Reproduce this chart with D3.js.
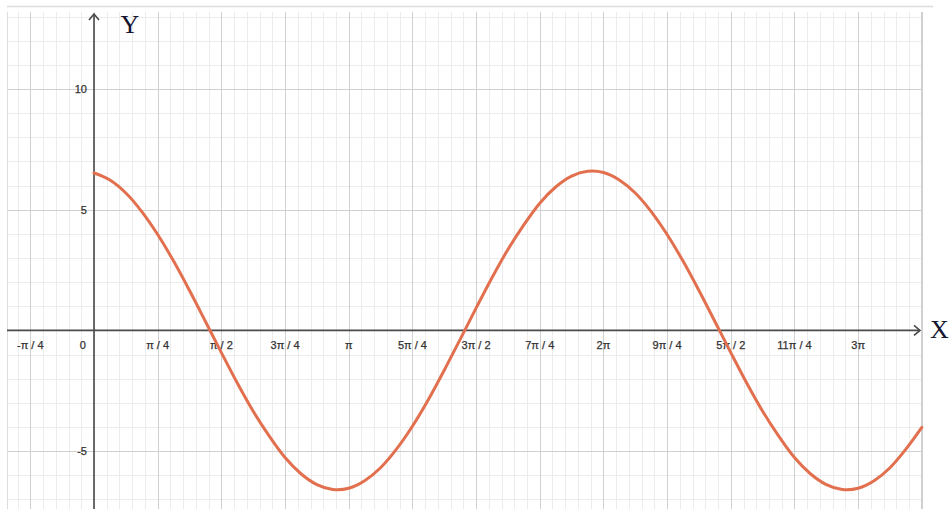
<!DOCTYPE html>
<html>
<head>
<meta charset="utf-8">
<script src="https://cdn.jsdelivr.net/npm/d3@7/dist/d3.min.js"></script>
<style>
  html, body { margin: 0; padding: 0; background: #ffffff; }
  svg { display: block; }
</style>
</head>
<body>
<svg id="chart" width="952" height="509"></svg>
<script>
// ---- data ----
// x positions of the sampled curve points, as multiples of π/16
const sampleSteps = [0,1,2,3,4,5,6,7,8,9,10,11,12,13,14,15,16,17,18,19,20,21,22,23,24,25,26,
  27,28,29,30,31,32,33,34,35,36,37,38,39,40,41,42,43,44,45,46,47,48,49,50,51,52];
// y values at those positions
const curveValues = [6.52,6.23,5.69,4.92,3.97,2.87,1.65,0.37,-0.92,-2.18,-3.35,-4.37,-5.27,-5.94,-6.39,-6.59,
  -6.54,-6.23,-5.69,-4.92,-3.97,-2.87,-1.65,-0.37,0.92,2.18,3.35,4.37,5.27,5.94,6.39,6.59,
  6.54,6.23,5.69,4.92,3.97,2.87,1.65,0.37,-0.92,-2.18,-3.35,-4.37,-5.27,-5.94,-6.39,-6.59,
  -6.54,-6.23,-5.69,-4.92,-4.02];
// x tick positions (multiples of π/4) and labels
const xTickSteps = [-1,0,1,2,3,4,5,6,7,8,9,10,11,12];
const xTickLabels = ["-π / 4","0","π / 4","π / 2","3π / 4","π","5π / 4","3π / 2","7π / 4","2π","9π / 4","5π / 2","11π / 4","3π"];
const yTickValues = [10, 5, -5];
const yTickLabels = ["10", "5", "-5"];

(function () {
// ---- layout ----
const svg = d3.select("#chart");
const gL = 7, gR = 921, gT = 12, gB = 509;
const x = d3.scaleLinear().domain([-1.073, 10.2]).range([gL, gR]);
const y = d3.scaleLinear().domain([13.19, -7.4]).range([gT, gB]);
const q = Math.PI / 4;

// frame line at top
svg.append("line").attr("x1", 7).attr("x2", 933).attr("y1", 6.5).attr("y2", 6.5)
  .attr("stroke", "#dcdcdc").attr("stroke-width", 1.5);

const grid = svg.append("g");
// minor vertical grid (π/20)
const vMinor = d3.range(-25, 70).map(i => i * Math.PI / 20).filter(v => x(v) >= gL - 0.5 && x(v) <= gR + 0.5);
grid.selectAll(".vmin").data(vMinor).enter().append("line")
  .attr("x1", d => Math.round(x(d)) + 0.5).attr("x2", d => Math.round(x(d)) + 0.5)
  .attr("y1", gT).attr("y2", gB).attr("stroke", "#ececec").attr("stroke-width", 1);
// minor horizontal grid (1 unit)
const hMinor = d3.range(-7, 14).filter(v => y(v) >= gT && y(v) <= gB);
grid.selectAll(".hmin").data(hMinor).enter().append("line")
  .attr("x1", gL).attr("x2", gR)
  .attr("y1", d => Math.round(y(d)) + 0.5).attr("y2", d => Math.round(y(d)) + 0.5)
  .attr("stroke", "#ececec").attr("stroke-width", 1);
// major vertical grid (π/4)
const vMajor = d3.range(-1, 14).map(i => i * q).filter(v => x(v) >= gL - 0.5 && x(v) <= gR + 1);
grid.selectAll(".vmaj").data(vMajor).enter().append("line")
  .attr("x1", d => Math.round(x(d)) + 0.5).attr("x2", d => Math.round(x(d)) + 0.5)
  .attr("y1", gT).attr("y2", gB).attr("stroke", "#d0d0d0").attr("stroke-width", 1);
// major horizontal grid (5 units)
const hMajor = [10, 5, -5];
grid.selectAll(".hmaj").data(hMajor).enter().append("line")
  .attr("x1", gL).attr("x2", gR)
  .attr("y1", d => Math.round(y(d)) + 0.5).attr("y2", d => Math.round(y(d)) + 0.5)
  .attr("stroke", "#d0d0d0").attr("stroke-width", 1);
// left & right boundaries
svg.append("line").attr("x1", gL + 0.5).attr("x2", gL + 0.5).attr("y1", gT).attr("y2", gB)
  .attr("stroke", "#dddddd");
svg.append("line").attr("x1", gR + 0.5).attr("x2", gR + 0.5).attr("y1", gT).attr("y2", gB)
  .attr("stroke", "#d0d0d0");

// axes
const axisColor = "#4a4a4a";
const x0 = x(0), y0 = y(0);
svg.append("line").attr("x1", gL).attr("x2", 920).attr("y1", y0).attr("y2", y0)
  .attr("stroke", axisColor).attr("stroke-width", 1.6);
svg.append("line").attr("x1", x0).attr("x2", x0).attr("y1", gB).attr("y2", 14)
  .attr("stroke", axisColor).attr("stroke-width", 1.6);
// arrow heads
svg.append("path").attr("d", `M${920 - 6},${y0 - 5} L920,${y0} L${920 - 6},${y0 + 5}`)
  .attr("fill", "none").attr("stroke", axisColor).attr("stroke-width", 1.6);
svg.append("path").attr("d", `M${x0 - 5},${14 + 6} L${x0},14 L${x0 + 5},${14 + 6}`)
  .attr("fill", "none").attr("stroke", axisColor).attr("stroke-width", 1.6);

// tick labels
const labelFont = "'Liberation Sans', Arial, sans-serif";
svg.selectAll(".xl").data(xTickSteps).enter().append("text")
  .attr("x", (d) => d === 0 ? x0 - 8 : x(d * q))
  .attr("y", y0 + 19)
  .attr("text-anchor", d => d === 0 ? "end" : "middle")
  .attr("font-family", labelFont).attr("font-size", 11).attr("fill", "#333")
  .attr("stroke", "#333").attr("stroke-width", 0.25)
  .text((d, i) => xTickLabels[i]);
svg.selectAll(".yl").data(yTickValues).enter().append("text")
  .attr("x", x0 - 7).attr("y", d => y(d) + 4)
  .attr("text-anchor", "end")
  .attr("font-family", labelFont).attr("font-size", 11).attr("fill", "#333")
  .attr("stroke", "#333").attr("stroke-width", 0.25)
  .text((d, i) => yTickLabels[i]);

// axis titles
svg.append("text").attr("x", 130).attr("y", 33).attr("text-anchor", "middle")
  .attr("font-family", "'Liberation Serif', 'Times New Roman', serif").attr("font-size", 26)
  .attr("fill", "#151530").text("Y");
svg.append("text").attr("x", 930).attr("y", 338).attr("text-anchor", "start")
  .attr("font-family", "'Liberation Serif', 'Times New Roman', serif").attr("font-size", 26)
  .attr("fill", "#151530").text("X");

// curve
const pts = sampleSteps.map((s, i) => [s * Math.PI / 16, curveValues[i]]);
const line = d3.line().x(d => x(d[0])).y(d => y(d[1])).curve(d3.curveCatmullRom.alpha(0));
svg.append("path").attr("d", line(pts)).attr("fill", "none")
  .attr("stroke", "#e2704f").attr("stroke-width", 3).attr("stroke-linecap", "round");
})();
</script>
</body>
</html>
